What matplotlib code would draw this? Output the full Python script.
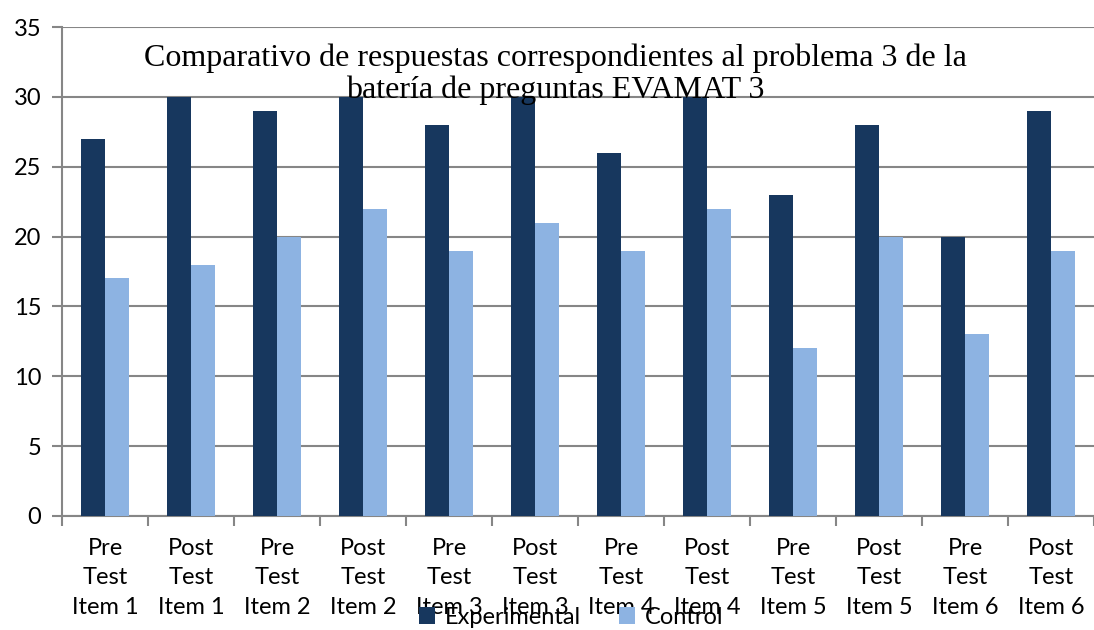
import numpy as np
import matplotlib.pyplot as plt

categories = ["Pre\nTest\nItem 1", "Post\nTest\nItem 1", "Pre\nTest\nItem 2", "Post\nTest\nItem 2",
              "Pre\nTest\nItem 3", "Post\nTest\nItem 3", "Pre\nTest\nItem 4", "Post\nTest\nItem 4",
              "Pre\nTest\nItem 5", "Post\nTest\nItem 5", "Pre\nTest\nItem 6", "Post\nTest\nItem 6"]
experimental = [27, 30, 29, 30, 28, 30, 26, 30, 23, 28, 20, 29]
control = [17, 18, 20, 22, 19, 21, 19, 22, 12, 20, 13, 19]

title = "Comparativo de respuestas correspondientes al problema 3 de la\nbatería de preguntas EVAMAT 3"

fig = plt.figure(figsize=(10.94, 6.3), dpi=100)
ax = fig.add_axes([62 / 1094, 1 - 516 / 630, 1 - 62 / 1094, (516 - 27) / 630])

x = np.arange(len(categories))
w = 0.28
ax.bar(x - w / 2, experimental, w, color="#17375E", label="Experimental", zorder=3)
ax.bar(x + w / 2, control, w, color="#8DB3E2", label="Control", zorder=3)

ax.set_xlim(-0.5, len(categories) - 0.5)
ax.set_ylim(0, 35)
ax.set_yticks(range(0, 36, 5))
ax.grid(axis="y", color="#868686", linewidth=1.5, zorder=0)

for s in ["top", "right"]:
    ax.spines[s].set_visible(False)
for s in ["left", "bottom"]:
    ax.spines[s].set_color("#868686")
    ax.spines[s].set_linewidth(1.5)

ax.set_xticks(x)
ax.set_xticklabels(categories, fontsize=17, fontfamily="Lato", linespacing=1.48)
ax.set_xticks(np.arange(-0.5, len(categories), 1), minor=True)
ax.tick_params(axis="x", which="major", length=0, pad=16)
ax.tick_params(axis="x", which="minor", length=7, width=1.5, color="#868686")
ax.tick_params(axis="y", length=7, width=1.5, color="#868686", labelsize=17, pad=8)
for t in ax.get_yticklabels():
    t.set_fontfamily("Lato")

ax.text(0.478, 0.966, title, transform=ax.transAxes, ha="center", va="top",
        fontsize=23, fontfamily="Liberation Serif", linespacing=1.12, zorder=5)

fig.legend(loc="lower center", bbox_to_anchor=(0.522, -0.03), ncol=2, frameon=False,
           prop={"family": "Lato", "size": 17}, handlelength=0.7, handleheight=0.7,
           columnspacing=1.6, handletextpad=0.4)

fig.savefig("out.png", dpi=100)
